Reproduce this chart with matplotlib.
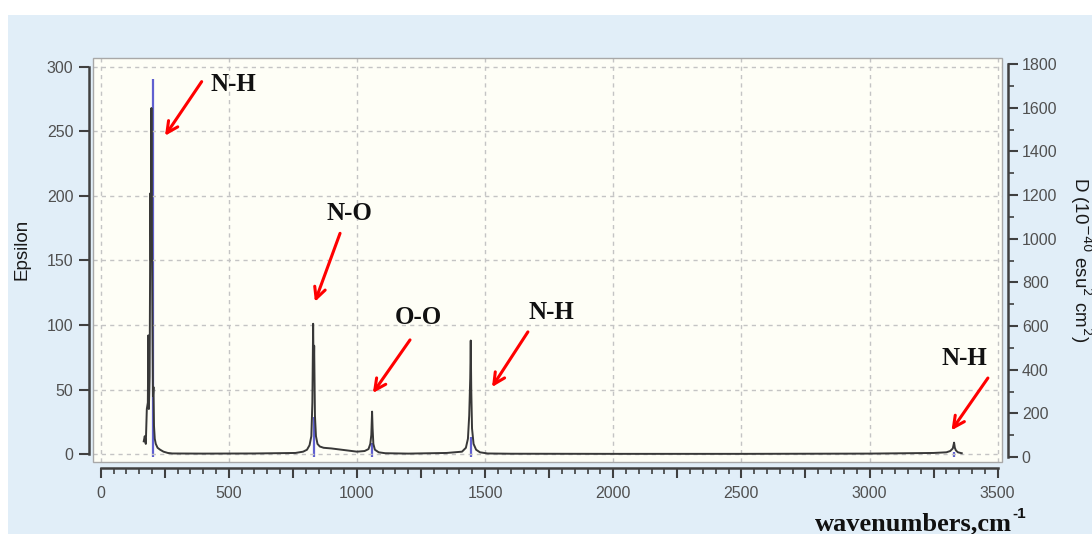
import matplotlib
matplotlib.use("Agg")
import matplotlib.pyplot as plt
from matplotlib.patches import Rectangle
from matplotlib.ticker import MultipleLocator, FuncFormatter

# computed IR spectrum (Epsilon, left axis)
spec_x = [168, 172, 176, 180, 184, 186, 188, 191, 194, 196, 198, 200, 202, 204, 206, 208, 211, 215,
          222, 232, 245, 262, 280, 400, 600, 760, 790, 805, 815, 822, 826, 829, 831, 833, 836, 840,
          846, 855, 870, 900, 960, 1000, 1030, 1045, 1052, 1056, 1059, 1061, 1064, 1070, 1085, 1110,
          1200, 1350, 1410, 1425, 1433, 1438, 1442, 1444, 1446, 1449, 1455, 1465, 1480, 1510, 1600,
          2000, 2500, 3000, 3250, 3300, 3315, 3325, 3330, 3333, 3337, 3345, 3360]
spec_eps = [10, 14, 8, 35, 40, 92, 35, 60, 202, 150, 268, 171, 100, 45, 52, 22, 12, 8,
            5, 3.5, 2, 1, 0.6, 0.5, 0.6, 1, 2, 3.5, 7, 14, 40, 101, 60, 84, 30, 14,
            8, 6, 5, 4.5, 3, 2, 2.5, 4, 8, 15, 33, 20, 8, 3.5, 1.5, 0.8,
            0.5, 1, 2, 5, 12, 30, 59, 88, 50, 20, 8, 3.5, 1.5, 0.6, 0.4,
            0.3, 0.3, 0.5, 1, 1.5, 2.5, 4.5, 9, 5, 3, 1.5, 0.8]

# dipole strength sticks (right axis)
stick_x = [203, 831, 1060, 1444, 3331]
stick_d = [1731, 183, 64, 92, 23]

# labels and arrows: (text, text x, text y, arrow tail x, tail y, head x, head y)
labels = ["N-H", "N-O", "O-O", "N-H", "N-H"]
label_x = [516, 971, 1240, 1760, 3372]
label_y = [286.5, 186.4, 106, 109.4, 74]
tail_x = [394, 934, 1207, 1667, 3462]
tail_y = [288.4, 171, 88.5, 94.7, 59]
head_x = [251, 836, 1062, 1527, 3320]
head_y = [246.5, 118, 47.4, 52, 18.5]

plt.rcParams['font.family'] = ['Liberation Sans', 'DejaVu Sans']

fig = plt.figure(figsize=(10.92, 5.34), dpi=100)
fig.patch.set_facecolor('white')
fig.patches.append(Rectangle((8 / 1092, 0), 1, 1 - 15 / 534, transform=fig.transFigure,
                             facecolor='#E1EEF8', edgecolor='none', zorder=0))

ax = fig.add_axes([93 / 1092, 1 - 462 / 534, 909 / 1092, 404 / 534])
ax2 = ax.twinx()
ax.set_zorder(2)
ax2.set_zorder(1)
ax.patch.set_visible(False)
ax2.patch.set_visible(True)
ax2.patch.set_facecolor('#FEFEF6')

ax.set_xlim(-30, 3517)
ax.set_ylim(-6, 306.7)
ax2.set_ylim(-22.9, 1827.5)

# grid
for gx in range(0, 3501, 500):
    ax.axvline(gx, color='#C4C4C4', lw=1, ls=(0, (3, 3)), zorder=0)
for gy in range(0, 301, 50):
    ax.axhline(gy, color='#C4C4C4', lw=1, ls=(0, (3, 3)), zorder=0)

ax2.vlines(stick_x, 0, stick_d, color='#6060D0', lw=1.6)
ax.plot(spec_x, spec_eps, color='#383838', lw=1.4, zorder=3)

# arrows and labels
for i in range(len(labels)):
    ax.annotate('', xy=(head_x[i], head_y[i]), xytext=(tail_x[i], tail_y[i]),
                arrowprops=dict(arrowstyle='->', color='red', lw=2.2, mutation_scale=20,
                                shrinkA=0, shrinkB=0), zorder=5)
    ax.text(label_x[i], label_y[i], labels[i], ha='center', va='center', fontsize=18,
            family='Liberation Serif', fontweight='bold', color='#111111', zorder=5)

# plot box frame
ax.add_patch(Rectangle((0, 0), 1, 1, transform=ax.transAxes, fill=False,
                       edgecolor='#A8A8A8', lw=1, clip_on=False, zorder=6))

spine_col = '#404040'
for s in ['top', 'right']:
    ax.spines[s].set_visible(False)
for s in ['top', 'left', 'bottom']:
    ax2.spines[s].set_visible(False)

ax.spines['left'].set_position(('outward', 3))
ax.spines['left'].set_bounds(0, 300)
ax.spines['bottom'].set_position(('outward', 4.3))
ax.spines['bottom'].set_bounds(0, 3500)
ax2.spines['right'].set_position(('outward', 4.3))
ax2.spines['right'].set_bounds(0, 1800)
for sp in [ax.spines['left'], ax.spines['bottom'], ax2.spines['right']]:
    sp.set_color(spine_col)
    sp.set_linewidth(1.8)

ax.yaxis.set_major_locator(MultipleLocator(50))
ax.set_yticks(range(0, 301, 50))
ax.set_xticks(range(0, 3501, 250))
ax.set_xticks(range(0, 3501, 50), minor=True)
ax.xaxis.set_major_formatter(FuncFormatter(lambda v, p: '%d' % v if v % 500 == 0 else ''))
ax2.set_yticks(range(0, 1801, 200))
ax2.set_yticks(range(0, 1801, 100), minor=True)

ax.tick_params(axis='y', direction='out', length=7, width=1.5, color=spine_col,
               labelsize=11.5, labelcolor='#505050', pad=4)
ax.tick_params(axis='x', which='major', direction='out', length=7, width=1.5, color=spine_col,
               labelsize=11.5, labelcolor='#505050', pad=6)
ax.tick_params(axis='x', which='minor', direction='out', length=4, width=1.2, color=spine_col)
ax2.tick_params(axis='y', which='major', direction='out', length=7, width=1.5, color=spine_col,
                labelsize=11.5, labelcolor='#505050', pad=3)
ax2.tick_params(axis='y', which='minor', direction='out', length=4, width=1.2, color=spine_col)

fig.text(22 / 1092, 1 - 249 / 534, 'Epsilon', rotation=90, ha='center', va='center',
         fontsize=13.5, color='#1A1A1A')
fig.text(1081 / 1092, 1 - 260 / 534, 'D (10$^{-40}$ esu$^{2}$ cm$^{2}$)', rotation=270,
         ha='center', va='center', fontsize=13.5, color='#1A1A1A')
fig.text(815 / 1092, 4 / 534, 'wavenumbers,cm', ha='left', va='baseline',
         fontsize=19, family='Liberation Serif', fontweight='bold', color='#111111')
fig.text(1012 / 1092, 16 / 534, '-1', ha='left', va='baseline',
         fontsize=11, fontweight='bold', color='#111111')

fig.savefig('out.png', dpi=100)
